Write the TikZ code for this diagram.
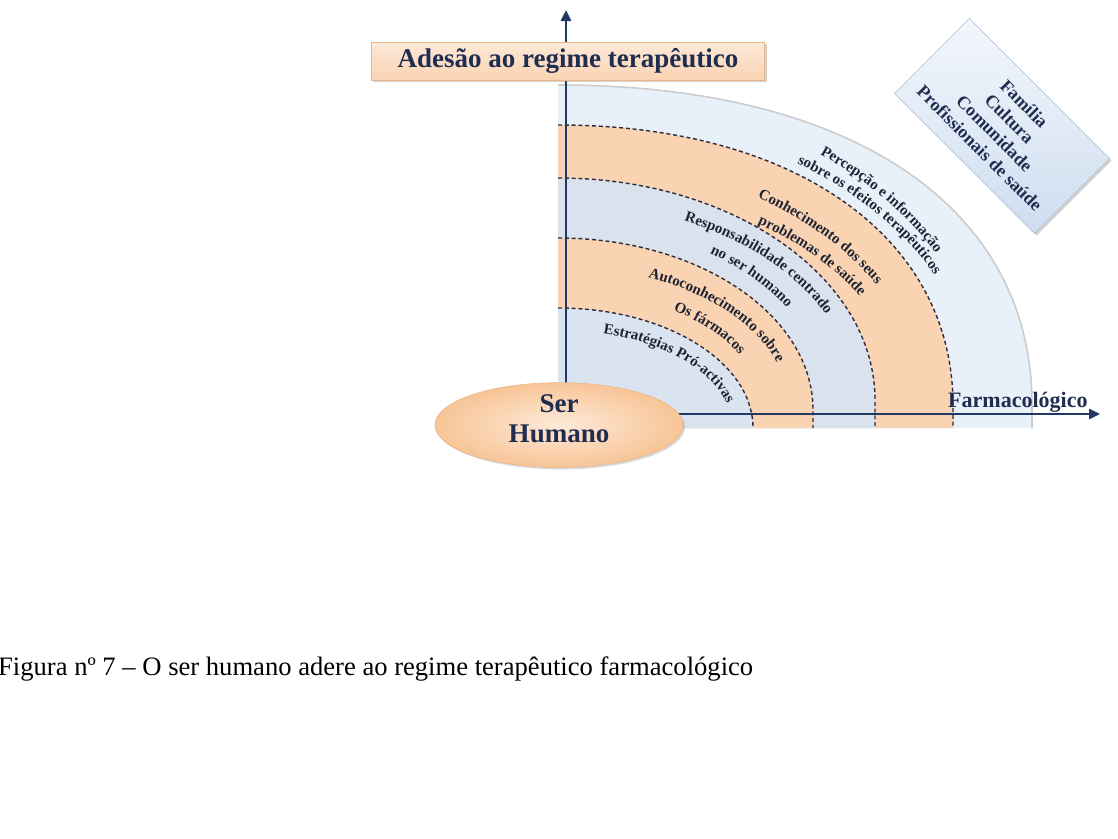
\documentclass[tikz,border=0pt]{standalone}
\usepackage{fontspec}
\setmainfont{Liberation Serif}
\usetikzlibrary{arrows.meta,shapes.geometric,shadows,decorations.text}
\definecolor{navy}{HTML}{1F3864}
\definecolor{txtnavy}{HTML}{1F2D50}
\definecolor{peach}{HTML}{FAD3B2}
\definecolor{peachlt}{HTML}{FDE9D9}
\definecolor{peachdk}{HTML}{EDB585}
\definecolor{peachout}{HTML}{F8C596}
\definecolor{outerblue}{HTML}{E8F0FA}
\definecolor{midblue}{HTML}{DAE2EE}
\definecolor{innerblue}{HTML}{DAE4F0}
\definecolor{dashcol}{HTML}{2C2C3C}
\definecolor{lblcol}{HTML}{1E2434}
\definecolor{boxblue}{HTML}{CFDDF0}
\definecolor{boxlt}{HTML}{F3F7FC}
\definecolor{boxedge}{HTML}{A9BCD6}
\newcommand\arclbl{\fontsize{15}{18}\selectfont\bfseries\color{lblcol}}
\begin{document}
\begin{tikzpicture}[x=1pt,y=-1pt,
  dashcurve/.style={draw=dashcol, line width=1.4pt, dash pattern=on 4pt off 2.8pt},
  axisline/.style={draw=navy, line width=2.6pt, -{Triangle[length=11pt,width=10pt]}},
  arclabel/.style={decorate, decoration={text along path, text align=center, text={|\arclbl|#1}}},
  titlebox/.style={rectangle, minimum width=393pt, minimum height=38pt, inner sep=0pt,
    top color=peachlt, bottom color=peach, draw=peachdk, line width=0.6pt,
    drop shadow={shadow xshift=2pt, shadow yshift=-2pt, opacity=0.35},
    font=\fontsize{27}{30}\selectfont\bfseries, text=txtnavy},
  humanbox/.style={ellipse, minimum width=248pt, minimum height=80pt, inner sep=0pt,
    inner color=peachlt, outer color=peachout, draw=peachdk, line width=0.6pt,
    drop shadow={shadow xshift=2pt, shadow yshift=-2pt, opacity=0.3},
    align=center, font=\fontsize{27}{30}\selectfont\bfseries, text=txtnavy},
  ctxbox/.style={rectangle, minimum width=198pt, minimum height=106pt, inner sep=0pt,
    top color=boxlt, bottom color=boxblue, draw=boxedge, line width=0.6pt,
    drop shadow={shadow xshift=2pt, shadow yshift=-2pt, opacity=0.35},
    align=center, font=\fontsize{18}{21}\selectfont\bfseries, text=txtnavy},
  axislabel/.style={font=\fontsize{22}{24}\selectfont\bfseries, text=txtnavy, inner sep=0pt},
  captionstyle/.style={font=\fontsize{26.6}{28}\selectfont, text=black, inner sep=0pt}
]
\useasboundingbox (0,0) rectangle (1118,838);
\fill[white] (0,0) rectangle (1118,838);

% bands
\fill[outerblue] (558,428) -- (558,85) .. controls (852,85) and (1032,207) .. (1032,405) -- (1032,428) -- cycle;
\fill[peach] (558,428) -- (558,125) .. controls (795,125) and (953,237) .. (953,405) -- (953,428) -- cycle;
\fill[midblue] (558,428) -- (558,178) .. controls (733,178) and (875,277.5) .. (875,400) -- (875,428) -- cycle;
\fill[peach] (558,428) -- (558,238) .. controls (699,238) and (813,315) .. (813,410) -- (813,428) -- cycle;
\fill[innerblue] (558,428) -- (558,308) .. controls (666,308) and (753,362) .. (753,428) -- cycle;

% outer edge
\draw[gray!40, line width=1.6pt] (558,85) .. controls (852,85) and (1032,207) .. (1032,405) -- (1032,428);

% dashed boundaries
\draw[dashcurve] (558,125) .. controls (795,125) and (953,237) .. (953,405) -- (953,428);
\draw[dashcurve] (558,178) .. controls (733,178) and (875,277.5) .. (875,400) -- (875,428);
\draw[dashcurve] (558,238) .. controls (699,238) and (813,315) .. (813,410) -- (813,428);
\draw[dashcurve] (558,308) .. controls (666,308) and (753,362) .. (753,428);

% arc labels
\path[arclabel={Estratégias Pró-activas}] (558,428) ++(-82:174 and 98) arc[start angle=-82, end angle=-2, x radius=174, y radius=98];
\path[arclabel={Autoconhecimento sobre}] (558,410) ++(-74:232 and 144) arc[start angle=-74, end angle=-9, x radius=232, y radius=144];
\path[arclabel={Os fármacos}] (558,410) ++(-63:204 and 121) arc[start angle=-63, end angle=-17, x radius=204, y radius=121];
\path[arclabel={Responsabilidade centrado}] (558,400) ++(-72:297 and 198) arc[start angle=-72, end angle=-16, x radius=297, y radius=198];
\path[arclabel={no ser humano}] (558,400) ++(-63:268 and 178) arc[start angle=-63, end angle=-22, x radius=268, y radius=178];
\path[arclabel={Conhecimento dos seus}] (558,405) ++(-64:364 and 248) arc[start angle=-64, end angle=-20, x radius=364, y radius=248];
\path[arclabel={problemas de saúde}] (558,405) ++(-62:346 and 222) arc[start angle=-62, end angle=-20, x radius=346, y radius=222];
\path[arclabel={Percepção e informação}] (558,405) ++(-60:431 and 316) arc[start angle=-60, end angle=-20, x radius=431, y radius=316];
\path[arclabel={sobre os efeitos terapêuticos}] (558,405) ++(-62:420 and 294) arc[start angle=-62, end angle=-18, x radius=420, y radius=294];

% axes
\coordinate (vbot) at (566,400);
\coordinate (vtop) at (566,10);
\coordinate (hleft) at (620,414);
\coordinate (hright) at (1100,414);
\draw[axisline] (vbot) -- (vtop);
\draw[axisline] (hleft) -- (hright);

% nodes
\node[titlebox] (title) at (568,61) {Adesão ao regime terapêutico};
\node[humanbox] (human) at (559,425) {Ser\\Humano\rule[-12pt]{0pt}{12pt}};
\node[ctxbox, rotate=-45] (ctx) at (1002,126) {Família\\Cultura\\Comunidade\\Profissionais de saúde};
\node[axislabel, anchor=base west] (farm) at (948,407) {Farmacológico};
\node[captionstyle, anchor=base west] (caption) at (-2,675) {Figura nº 7 – O ser humano adere ao regime terapêutico farmacológico};
\end{tikzpicture}
\end{document}
